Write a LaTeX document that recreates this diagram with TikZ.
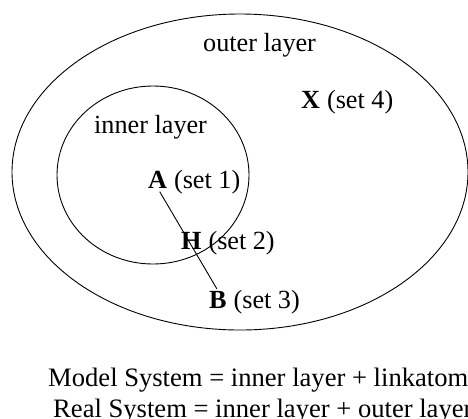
\documentclass[tikz,border=0pt]{standalone}
\usepackage{fontspec}
\setmainfont{Liberation Serif}
\begin{document}
\begin{tikzpicture}[x=1pt,y=-1pt,
  lbl/.style={inner sep=0pt,anchor=base west,font=\fontsize{26.2}{30}\selectfont},
  caption/.style={inner sep=0pt,anchor=base west,font=\fontsize{26.6}{30}\selectfont},
  ring/.style={draw,line width=0.9pt}]
\useasboundingbox (0,0) rectangle (468,418);
\draw[ring] (240,172) ellipse [x radius=228, y radius=158];
\draw[ring] (153,175) ellipse [x radius=96, y radius=89];
\node[lbl] (outer) at (203,51) {outer layer};
\node[lbl] (inner) at (94,133) {inner layer};
\node[lbl] (X) at (301,108) {\textbf{X}};
\node[lbl,anchor=base west] (Xs) at (X.base east) {\ (set 4)};
\node[lbl] (A) at (148,188) {\textbf{A}};
\node[lbl,anchor=base west] (As) at (A.base east) {\ (set 1)};
\node[lbl] (H) at (181,249) {\textbf{H}};
\node[lbl,anchor=base west] (Hs) at (H.base east) {\ (set 2)};
\node[lbl] (B) at (209,308) {\textbf{B}};
\node[lbl,anchor=base west] (Bs) at (B.base east) {\ (set 3)};
\draw[line width=0.9pt,shorten <=4pt,shorten >=2pt] (A.south) -- (B.north);
\node[caption] (model) at (48,386) {Model System = inner layer + linkatoms};
\node[caption] (real) at (53,417) {Real System = inner layer + outer layer};
\end{tikzpicture}
\end{document}
